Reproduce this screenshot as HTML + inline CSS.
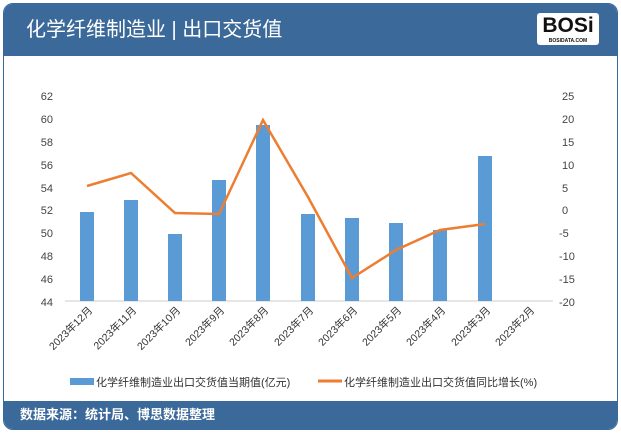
<!DOCTYPE html><html><head><meta charset="utf-8"><style>
body{margin:0;width:621px;height:434px;background:#fff;font-family:"Liberation Sans","Noto Sans CJK SC",sans-serif;overflow:hidden}
.card{position:absolute;left:3px;top:3px;width:613px;height:425px;border:1px solid #3a6a9b;border-radius:10px;overflow:hidden;background:#fff}
.hd{position:absolute;left:0;top:0;width:100%;height:52px;background:#3b6999;color:#fff;font-size:20px;line-height:52px;padding-left:22px;box-sizing:border-box}
.ft{position:absolute;left:0;bottom:0;width:100%;height:28px;background:#3b6999;color:#fff;font-size:13px;line-height:28px;padding-left:16px;box-sizing:border-box;font-weight:bold}
.logo{position:absolute;right:18px;top:9px;width:62px;height:32px;background:#fff;border-radius:3px;color:#111;font-weight:900;font-size:21px;text-align:center;line-height:26px}
.logo small{position:absolute;left:0;right:0;bottom:1px;font-size:5px;line-height:6px}
</style></head><body>
<div class="card">
<div class="hd">化学纤维制造业 | 出口交货值</div>
<div class="logo">BOSi<small>BOSIDATA.COM</small></div>
<div class="ft">数据来源：统计局、博思数据整理</div>
</div>
<svg width="621" height="434" style="position:absolute;left:0;top:0" font-family="Liberation Sans, Noto Sans CJK SC, sans-serif" font-size="11" fill="#444">
<g text-anchor="end">
<text x="53" y="100">62</text><text x="53" y="123">60</text><text x="53" y="146">58</text><text x="53" y="169">56</text><text x="53" y="192">54</text><text x="53" y="214">52</text><text x="53" y="237">50</text><text x="53" y="260">48</text><text x="53" y="283">46</text><text x="53" y="306">44</text>
</g>
<g text-anchor="start">
<text x="562" y="100">25</text><text x="562" y="123">20</text><text x="562" y="146">15</text><text x="562" y="169">10</text><text x="562" y="192">5</text><text x="562" y="214">0</text><text x="559" y="237">-5</text><text x="559" y="260">-10</text><text x="559" y="283">-15</text><text x="559" y="306">-20</text>
</g>
<line x1="65" y1="301" x2="553" y2="301" stroke="#ccc"/>
<g fill="#5b9bd5">
<rect x="80" y="212" width="14" height="89"/>
<rect x="124" y="200" width="14" height="101"/>
<rect x="168" y="234" width="14" height="67"/>
<rect x="212" y="180" width="14" height="121"/>
<rect x="256" y="125" width="14" height="176"/>
<rect x="301" y="214" width="14" height="87"/>
<rect x="345" y="218" width="14" height="83"/>
<rect x="389" y="223" width="14" height="78"/>
<rect x="433" y="230" width="14" height="71"/>
<rect x="478" y="156" width="14" height="145"/>
</g>
<polyline fill="none" stroke="#ed7d31" stroke-width="2.5" points="87,186 131,173 175,213 219,214 263,120 308,197 352,278 396,250 440,230 485,224"/>
<g font-size="10.5" fill="#333" text-anchor="end">
<text transform="translate(93,311) rotate(-45)">2023年12月</text>
<text transform="translate(137,311) rotate(-45)">2023年11月</text>
<text transform="translate(181,311) rotate(-45)">2023年10月</text>
<text transform="translate(225,311) rotate(-45)">2023年9月</text>
<text transform="translate(269,311) rotate(-45)">2023年8月</text>
<text transform="translate(314,311) rotate(-45)">2023年7月</text>
<text transform="translate(358,311) rotate(-45)">2023年6月</text>
<text transform="translate(402,311) rotate(-45)">2023年5月</text>
<text transform="translate(446,311) rotate(-45)">2023年4月</text>
<text transform="translate(491,311) rotate(-45)">2023年3月</text>
<text transform="translate(535,311) rotate(-45)">2023年2月</text>
</g>
<rect x="70" y="378" width="24" height="7" fill="#5b9bd5"/>
<text x="96" y="386" font-size="11" fill="#333">化学纤维制造业出口交货值当期值(亿元)</text>
<line x1="318" y1="381" x2="342" y2="381" stroke="#ed7d31" stroke-width="3"/>
<text x="344" y="386" font-size="11" fill="#333">化学纤维制造业出口交货值同比增长(%)</text>
</svg>
</body></html>
